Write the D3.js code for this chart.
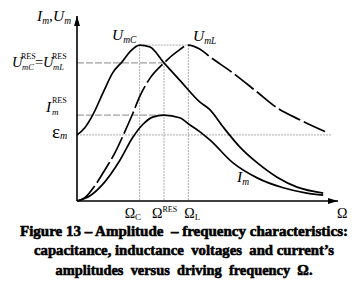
<!DOCTYPE html>
<html>
<head>
<meta charset="utf-8">
<script src="https://cdn.jsdelivr.net/npm/d3@7"></script>
<style>
  body { margin: 0; background: #fff; }
  svg { display: block; }
  text { font-family: "Liberation Serif", "Times New Roman", Times, serif; }
</style>
</head>
<body>
<svg width="364" height="299"></svg>
<script>
// frequency in units of the resonance frequency, amplitude in units of emf
var omegaC = 0.72, omegaRes = 1.0, omegaL = 1.28;
var uPeak = 2.36, uRes = 2.09, iRes = 1.30, emf = 1.0;

var umcOmega = [0, 0.09, 0.18, 0.30, 0.41, 0.52, 0.61, 0.72, 0.84, 1.0, 1.18, 1.41, 1.53, 1.68, 1.87, 2.07, 2.30, 2.53, 2.83];
var umcValue = [1.0, 1.11, 1.30, 1.64, 1.94, 2.11, 2.26, 2.36, 2.33, 2.09, 1.83, 1.50, 1.38, 1.12, 0.82, 0.58, 0.36, 0.21, 0.12];

var umlOmega = [0, 0.09, 0.21, 0.32, 0.44, 0.55, 0.64, 0.72, 0.84, 1.0, 1.15, 1.28, 1.41, 1.53, 1.79, 2.07, 2.30, 2.56, 2.85];
var umlValue = [0, 0.05, 0.24, 0.47, 0.74, 1.05, 1.32, 1.58, 1.86, 2.09, 2.26, 2.36, 2.30, 2.18, 1.94, 1.65, 1.41, 1.23, 1.05];

var imOmega = [0, 0.15, 0.30, 0.49, 0.64, 0.75, 0.87, 1.0, 1.18, 1.30, 1.41, 1.53, 1.79, 2.07, 2.37, 2.64, 2.83];
var imValue = [0, 0.08, 0.26, 0.61, 0.96, 1.15, 1.27, 1.30, 1.26, 1.15, 1.05, 0.92, 0.58, 0.35, 0.20, 0.12, 0.09];

var captionLines = [
  'Figure 13 \u2013 Amplitude  \u2013 frequency characteristics:',
  'capacitance, inductance  voltages  and current\u2019s',
  'amplitudes  versus  driving  frequency  \u03A9.'
];

var svg = d3.select('svg');

var x = d3.scaleLinear().domain([0, 3]).range([77, 338]);
var y = d3.scaleLinear().domain([0, 2.8]).range([201, 16]);

function zip(xs, ys) {
  return xs.map(function(d, i) { return [d, ys[i]]; });
}

// guide lines
var guides = svg.append('g');
function hguide(v, x0, x1, dash, col) {
  guides.append('line')
    .attr('x1', x(x0)).attr('x2', x(x1))
    .attr('y1', y(v)).attr('y2', y(v))
    .attr('stroke', col).attr('stroke-width', 1)
    .attr('stroke-dasharray', dash);
}
function vguide(w, v, col) {
  guides.append('line')
    .attr('x1', x(w)).attr('x2', x(w))
    .attr('y1', y(v)).attr('y2', y(0))
    .attr('stroke', col).attr('stroke-width', 1)
    .attr('stroke-dasharray', '2,1');
}
hguide(uPeak, omegaC, omegaL, '2,1', '#aaa');
hguide(uRes, 0, omegaRes, '7,2', '#888');
hguide(iRes, 0, omegaRes, '7,2', '#888');
hguide(emf, 0, 2.92, '2,1', '#aaa');
vguide(omegaC, uPeak, '#aaa');
vguide(omegaRes, uRes, '#aaa');
vguide(omegaL, uPeak, '#aaa');

// axes with arrows
svg.append('defs').append('marker')
  .attr('id', 'arrow')
  .attr('viewBox', '0 0 10 6')
  .attr('refX', 10).attr('refY', 3)
  .attr('markerWidth', 10).attr('markerHeight', 6)
  .attr('markerUnits', 'userSpaceOnUse')
  .attr('orient', 'auto')
  .append('path').attr('d', 'M0,0 L10,3 L0,6 Z').attr('fill', '#000');

svg.append('line')
  .attr('x1', x(0)).attr('y1', y(0)).attr('x2', x(3)).attr('y2', y(0))
  .attr('stroke', '#000').attr('stroke-width', 1.6)
  .attr('marker-end', 'url(#arrow)');
svg.append('line')
  .attr('x1', x(0)).attr('y1', y(0)).attr('x2', x(0)).attr('y2', y(2.8))
  .attr('stroke', '#000').attr('stroke-width', 1.6)
  .attr('marker-end', 'url(#arrow)');

// curves
var line = d3.line()
  .x(function(d) { return x(d[0]); })
  .y(function(d) { return y(d[1]); })
  .curve(d3.curveMonotoneX);

svg.append('path').datum(zip(umcOmega, umcValue))
  .attr('d', line).attr('fill', 'none')
  .attr('stroke', '#000').attr('stroke-width', 1.7);
svg.append('path').datum(zip(umlOmega, umlValue))
  .attr('d', line).attr('fill', 'none')
  .attr('stroke', '#000').attr('stroke-width', 1.7)
  .attr('stroke-dasharray', '24,4');
svg.append('path').datum(zip(imOmega, imValue))
  .attr('d', line).attr('fill', 'none')
  .attr('stroke', '#000').attr('stroke-width', 1.7);

function txt(px, py, size) {
  return svg.append('text')
    .attr('x', px).attr('y', py)
    .attr('font-size', size)
    .attr('fill', '#000');
}
function part(t, s, opt) {
  opt = opt || {};
  var ts = t.append('tspan').text(s);
  if (opt.x != null) ts.attr('x', opt.x);
  if (opt.dy != null) ts.attr('dy', opt.dy);
  if (opt.size != null) ts.attr('font-size', opt.size);
  ts.attr('font-style', opt.italic ? 'italic' : 'normal');
  return ts;
}

// I_m, U_m
var ta = txt(37, 21, 15.5);
part(ta, 'I', {italic: true});
part(ta, 'm', {italic: true, size: 9.5, dy: 3});
part(ta, ',', {italic: true, dy: -3});
part(ta, 'U', {italic: true});
part(ta, 'm', {italic: true, size: 9.5, dy: 3});

// curve names
var tb = txt(112, 40, 15.5);
part(tb, 'U', {italic: true});
part(tb, 'mC', {italic: true, size: 9.5, dy: 3});
var tc = txt(193, 41, 15.5);
part(tc, 'U', {italic: true});
part(tc, 'mL', {italic: true, size: 9.5, dy: 3});
var td = txt(237, 182, 15.5);
part(td, 'I', {italic: true});
part(td, 'm', {italic: true, size: 9.5, dy: 3});

// U_mC^RES = U_mL^RES
var t1 = txt(12, 67, 14.5);
part(t1, 'U', {italic: true, x: 12});
part(t1, 'mC', {italic: true, x: 22, dy: 3, size: 8.5});
part(t1, 'RES', {x: 21, dy: -11, size: 8});
part(t1, '=', {x: 35, dy: 8});
part(t1, 'U', {italic: true, x: 43});
part(t1, 'mL', {italic: true, x: 53, dy: 3, size: 8.5});
part(t1, 'RES', {x: 52, dy: -11, size: 8});

// I_m^RES
var t2 = txt(46, 112, 15.5);
part(t2, 'I', {italic: true, x: 46});
part(t2, 'm', {italic: true, x: 52, dy: 3, size: 9});
part(t2, 'RES', {x: 52, dy: -12, size: 8});

// emf
var t3 = txt(52, 138, 19);
part(t3, '\u03B5');
part(t3, 'm', {italic: true, dy: 1, size: 10});

// frequency labels on the x axis
var fy = 218;
var t4 = txt(x(omegaC) - 15, fy, 14);
part(t4, '\u03A9');
part(t4, 'C', {dy: 2, size: 9});
var t5 = txt(x(omegaRes) - 12, fy, 14);
part(t5, '\u03A9');
part(t5, 'RES', {dy: -6, size: 8});
var t6 = txt(x(omegaL) - 4, fy, 14);
part(t6, '\u03A9');
part(t6, 'L', {dy: 2, size: 9});
var t7 = txt(x(3) - 1, fy, 14);
part(t7, '\u03A9');

// caption
var capW = [328, 300, 257], capY = [236, 255, 275];
svg.selectAll('.cap').data(captionLines).enter().append('text')
  .attr('class', 'cap')
  .attr('x', 184)
  .attr('y', function(d, i) { return capY[i]; })
  .attr('text-anchor', 'middle')
  .attr('textLength', function(d, i) { return capW[i]; })
  .attr('lengthAdjust', 'spacingAndGlyphs')
  .attr('font-size', 15)
  .attr('font-weight', 'bold')
  .attr('fill', '#000')
  .attr('stroke', '#000').attr('stroke-width', 0.6)
  .style('white-space', 'pre')
  .text(function(d) { return d; });
</script>
</body>
</html>
